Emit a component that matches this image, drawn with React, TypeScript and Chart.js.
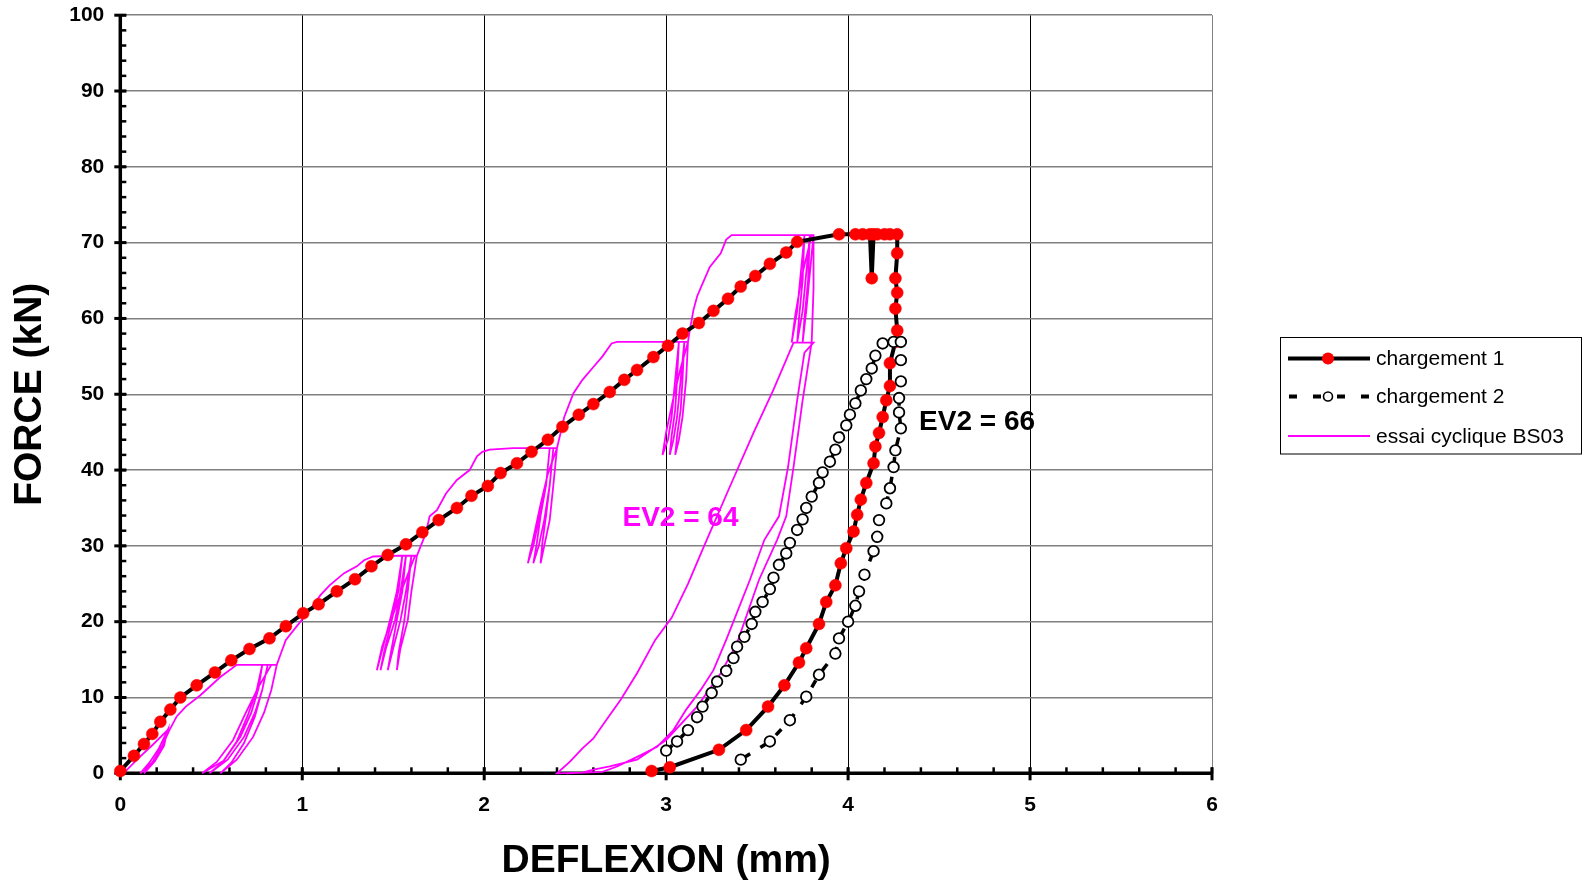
import React, { useEffect, useRef } from 'react';
import { Chart, registerables } from 'chart.js';

Chart.register(...registerables);

const FONT = "'Liberation Sans', Arial, Helvetica, sans-serif";

// ---------- axes ----------
const xTickValues = [0, 1, 2, 3, 4, 5, 6];
const yTickValues = [0, 10, 20, 30, 40, 50, 60, 70, 80, 90, 100];
const xTitle = 'DEFLEXION (mm)';
const yTitle = 'FORCE (kN)';

// ---------- series names ----------
const seriesNames = ['chargement 1', 'chargement 2', 'essai cyclique BS03'];

// ---------- chargement 1 (x mm, y kN) ----------
const chargement1: [number, number][] = [
  [0, 0.3], [0.075, 2.3], [0.13, 3.85], [0.176, 5.2], [0.22, 6.8], [0.275, 8.4], [0.33, 10.0],
  [0.42, 11.6], [0.52, 13.3], [0.61, 14.9], [0.71, 16.4], [0.82, 17.8], [0.91, 19.4], [1.005, 21.1],
  [1.09, 22.3], [1.19, 24.0], [1.29, 25.6], [1.38, 27.3], [1.47, 28.8], [1.57, 30.2], [1.66, 31.8],
  [1.75, 33.4], [1.85, 35.0], [1.93, 36.6], [2.02, 37.9], [2.09, 39.6], [2.18, 40.9], [2.26, 42.4],
  [2.35, 44.0], [2.43, 45.7], [2.52, 47.3], [2.60, 48.7], [2.69, 50.3], [2.77, 51.9], [2.84, 53.2],
  [2.93, 54.9], [3.01, 56.4], [3.09, 58.0], [3.18, 59.4], [3.26, 61.0], [3.34, 62.6], [3.41, 64.2],
  [3.49, 65.6], [3.57, 67.2], [3.66, 68.7], [3.72, 70.1], [3.95, 71.1], [4.04, 71.1], [4.08, 71.1],
  [4.12, 71.1], [4.13, 65.3], [4.14, 71.1], [4.16, 71.1], [4.20, 71.1], [4.23, 71.1], [4.27, 71.1],
  [4.27, 68.6], [4.26, 65.3], [4.27, 63.4], [4.26, 61.3], [4.27, 58.4], [4.26, 56.9], [4.23, 54.1],
  [4.23, 51.1], [4.21, 49.2], [4.19, 47.0], [4.17, 44.9], [4.15, 43.1], [4.14, 40.9], [4.10, 38.3],
  [4.07, 36.1], [4.05, 34.1], [4.03, 31.9], [3.99, 29.7], [3.96, 27.7], [3.93, 24.8], [3.88, 22.6],
  [3.84, 19.7], [3.77, 16.5], [3.73, 14.6], [3.65, 11.6], [3.56, 8.8], [3.44, 5.7], [3.29, 3.1],
  [3.02, 0.8], [2.92, 0.3],
];

// ---------- chargement 2 ----------
const chargement2: [number, number][] = [
  [3.00, 3.0], [3.06, 4.2], [3.12, 5.7], [3.17, 7.4], [3.20, 8.8], [3.25, 10.6], [3.28, 12.1],
  [3.33, 13.5], [3.37, 15.2], [3.39, 16.7], [3.43, 18.0], [3.47, 19.7], [3.49, 21.3], [3.53, 22.6],
  [3.57, 24.3], [3.59, 25.8], [3.62, 27.5], [3.66, 29.0], [3.68, 30.4], [3.72, 32.1], [3.75, 33.5],
  [3.77, 35.0], [3.80, 36.5], [3.84, 38.3], [3.86, 39.7], [3.90, 41.1], [3.93, 42.7], [3.95, 44.3],
  [3.99, 45.9], [4.01, 47.3], [4.04, 48.8], [4.07, 50.5], [4.10, 52.0], [4.13, 53.4], [4.15, 55.1],
  [4.19, 56.7], [4.25, 56.9], [4.29, 56.9], [4.29, 54.5], [4.29, 51.7], [4.28, 49.5], [4.28, 47.6],
  [4.29, 45.5], [4.26, 42.6], [4.25, 40.4], [4.23, 37.6], [4.21, 35.6], [4.17, 33.4], [4.16, 31.2],
  [4.14, 29.3], [4.09, 26.2], [4.06, 24.0], [4.04, 22.1], [4.00, 20.0], [3.95, 17.8], [3.93, 15.8],
  [3.84, 13.0], [3.77, 10.1], [3.68, 7.0], [3.57, 4.2], [3.41, 1.8],
];

// ---------- essai cyclique BS03 (segments in recording order) ----------
const cycStart: [number, number][] = [
  [0, 0], [0.03, 0.3], [0.10, 2.0], [0.18, 3.8], [0.26, 5.7], [0.23, 3.5], [0.18, 1.5], [0.11, 0],
  [0.16, 1.4], [0.21, 3.2], [0.26, 5.7], [0.24, 3.6], [0.19, 1.6], [0.13, 0], [0.18, 1.6], [0.23, 3.6],
  [0.27, 5.7], [0.31, 7.5], [0.36, 8.8], [0.44, 10.3], [0.55, 12.7], [0.64, 14.3], [0.75, 14.3], [0.86, 14.3],
];
const cycLevel14: [number, number][] = [
  [0.83, 11.0], [0.79, 8.0], [0.73, 4.8], [0.64, 1.8], [0.55, 0],
  [0.61, 1.4], [0.68, 4.0], [0.74, 7.5], [0.78, 11.0], [0.81, 14.3],
  [0.78, 11.0], [0.74, 8.0], [0.68, 4.8], [0.59, 1.8], [0.49, 0],
  [0.56, 1.4], [0.64, 4.2], [0.70, 7.6], [0.75, 11.0], [0.78, 14.3],
  [0.76, 11.2], [0.72, 8.0], [0.66, 4.8], [0.57, 1.7], [0.45, 0],
  [0.53, 1.5], [0.62, 4.4], [0.69, 8.0], [0.76, 11.4], [0.83, 14.3], [0.86, 14.3],
  [0.89, 16.3], [0.91, 17.6], [0.99, 20.0], [1.05, 21.8], [1.10, 23.5], [1.15, 24.8], [1.23, 26.4],
  [1.30, 27.3], [1.34, 28.1], [1.39, 28.6], [1.54, 28.7], [1.63, 28.7],
];
const cycLevel28: [number, number][] = [
  [1.60, 24.0], [1.58, 20.2], [1.54, 16.5], [1.52, 13.6],
  [1.53, 16.0], [1.56, 20.0], [1.58, 24.0], [1.60, 28.7],
  [1.57, 24.0], [1.54, 20.2], [1.50, 16.5], [1.47, 13.6],
  [1.49, 16.3], [1.52, 20.2], [1.55, 24.0], [1.57, 28.7],
  [1.54, 24.0], [1.51, 20.2], [1.46, 16.5], [1.43, 13.6],
  [1.45, 16.0], [1.49, 20.0], [1.53, 24.2], [1.55, 28.7],
  [1.52, 24.0], [1.48, 20.0], [1.44, 16.3], [1.41, 13.6],
  [1.44, 16.8], [1.50, 21.0], [1.56, 25.0], [1.62, 28.7], [1.63, 28.7],
  [1.65, 29.9], [1.68, 31.7], [1.70, 33.9], [1.74, 34.7], [1.79, 36.9], [1.85, 38.7], [1.92, 40.0],
  [1.96, 41.8], [1.99, 42.4], [2.03, 42.7], [2.16, 42.9], [2.32, 42.9], [2.40, 42.9],
];
const cycLevel43: [number, number][] = [
  [2.38, 38.0], [2.36, 33.4], [2.33, 30.0], [2.31, 27.7],
  [2.32, 30.5], [2.34, 34.0], [2.36, 38.0], [2.38, 42.9],
  [2.36, 38.0], [2.33, 33.4], [2.30, 30.0], [2.27, 27.7],
  [2.29, 30.5], [2.31, 34.0], [2.34, 38.0], [2.36, 42.9],
  [2.34, 38.0], [2.30, 33.4], [2.27, 30.0], [2.24, 27.7],
  [2.27, 31.0], [2.31, 35.5], [2.35, 39.5], [2.40, 42.9],
  [2.42, 44.9], [2.44, 47.0], [2.49, 50.1], [2.54, 51.9], [2.60, 53.6], [2.65, 55.0], [2.70, 56.7],
  [2.73, 56.9], [2.90, 56.9], [3.12, 56.9],
];
const cycLevel57: [number, number][] = [
  [3.11, 52.0], [3.09, 47.0], [3.07, 44.0], [3.05, 42.0],
  [3.06, 44.5], [3.08, 48.0], [3.09, 52.0], [3.10, 56.9],
  [3.08, 52.0], [3.06, 47.0], [3.04, 44.0], [3.02, 42.0],
  [3.03, 44.5], [3.05, 48.0], [3.06, 52.0], [3.07, 56.9],
  [3.05, 52.0], [3.03, 47.0], [3.01, 44.0], [2.98, 42.0],
  [3.00, 45.0], [3.04, 49.5], [3.08, 53.5], [3.12, 56.9],
  [3.13, 58.5], [3.15, 61.1], [3.17, 62.9], [3.20, 64.6], [3.24, 66.8], [3.30, 68.6], [3.33, 70.4],
  [3.36, 71.0], [3.60, 71.0], [3.81, 71.0],
];
const cycLevel71: [number, number][] = [
  [3.79, 66.0], [3.77, 61.0], [3.75, 56.8],
  [3.76, 60.0], [3.78, 65.0], [3.79, 71.0],
  [3.77, 66.0], [3.75, 61.0], [3.72, 56.8],
  [3.73, 60.0], [3.75, 65.0], [3.76, 71.0],
  [3.74, 66.0], [3.72, 61.0], [3.69, 56.8],
  [3.71, 60.5], [3.75, 66.0], [3.80, 71.0], [3.81, 71.0],
];
const cycUnload1: [number, number][] = [
  [3.81, 64.0], [3.80, 56.9], [3.75, 49.2], [3.70, 40.4], [3.66, 33.9], [3.61, 30.8], [3.51, 25.5],
  [3.39, 17.2], [3.30, 13.2], [3.17, 8.8], [3.00, 4.4], [2.84, 1.8], [2.69, 0.9], [2.60, 0.5],
  [2.54, 0.1], [2.40, 0],
];
const cycReload: [number, number][] = [
  [2.47, 1.5], [2.54, 3.3], [2.60, 4.6], [2.67, 7.0], [2.75, 9.7], [2.84, 13.2], [2.94, 17.6],
  [3.03, 20.5], [3.12, 25.0], [3.20, 29.5], [3.35, 37.8], [3.48, 44.9], [3.59, 50.6], [3.70, 56.8],
  [3.81, 56.8],
];
const cycUnload2: [number, number][] = [
  [3.76, 55.5], [3.72, 49.2], [3.67, 40.4], [3.62, 33.9], [3.54, 30.8], [3.46, 25.5], [3.33, 17.6],
  [3.26, 13.6], [3.19, 11.0], [3.11, 8.4], [3.04, 5.7], [2.95, 3.5], [2.86, 2.4], [2.73, 0.9],
  [2.65, 0.2], [2.45, 0],
];

// ---------- annotations ----------
const noteTexts = ['EV2 = 66', 'EV2 = 64'];
const noteX = [4.39, 2.76];
const noteY = [46.3, 33.7];
const noteColors = ['#000000', '#FF00FF'];

const cyclique = [
  ...cycStart, ...cycLevel14, ...cycLevel28, ...cycLevel43, ...cycLevel57, ...cycLevel71,
  ...cycUnload1, ...cycReload, ...cycUnload2,
];

const toPts = (a: [number, number][]) => a.map(([x, y]) => ({ x, y }));

const decorPlugin = {
  id: 'decor',
  beforeDatasetsDraw(chart: any) {
    const { ctx, chartArea: a, scales } = chart;
    const xs = scales.x;
    const ys = scales.y;
    ctx.save();
    ctx.strokeStyle = '#000';
    ctx.lineCap = 'butt';
    // minor ticks
    ctx.lineWidth = 2.5;
    for (let v = 0; v <= 100.001; v += 2) {
      const py = ys.getPixelForValue(v);
      ctx.beginPath();
      ctx.moveTo(a.left, py);
      ctx.lineTo(a.left + 6, py);
      ctx.stroke();
    }
    for (let v = 0; v <= 6.001; v += 0.2) {
      const px = xs.getPixelForValue(v);
      ctx.beginPath();
      ctx.moveTo(px, a.bottom);
      ctx.lineTo(px, a.bottom - 6);
      ctx.stroke();
    }
    // major ticks
    ctx.lineWidth = 3;
    yTickValues.forEach((v) => {
      const py = ys.getPixelForValue(v);
      ctx.beginPath();
      ctx.moveTo(a.left - 6, py);
      ctx.lineTo(a.left + 6, py);
      ctx.stroke();
    });
    xTickValues.forEach((v) => {
      const px = xs.getPixelForValue(v);
      ctx.beginPath();
      ctx.moveTo(px, a.bottom - 6);
      ctx.lineTo(px, a.bottom + 7);
      ctx.stroke();
    });
    // axis lines
    ctx.lineWidth = 3.5;
    ctx.beginPath();
    ctx.moveTo(a.left, a.top - 1);
    ctx.lineTo(a.left, a.bottom);
    ctx.lineTo(a.right + 1, a.bottom);
    ctx.stroke();
    ctx.restore();
  },
  afterDraw(chart: any) {
    const { ctx, scales } = chart;
    ctx.save();
    // annotations
    ctx.font = `bold 28px ${FONT}`;
    ctx.textBaseline = 'middle';
    ctx.textAlign = 'left';
    noteTexts.forEach((t, i) => {
      ctx.fillStyle = noteColors[i];
      ctx.fillText(t, scales.x.getPixelForValue(noteX[i]), scales.y.getPixelForValue(noteY[i]));
    });
    // legend
    const bx = 1280.5, by = 337.5, bw = 301, bh = 116.5;
    ctx.fillStyle = '#fff';
    ctx.fillRect(bx, by, bw, bh);
    ctx.strokeStyle = '#000';
    ctx.lineWidth = 1;
    ctx.strokeRect(bx, by, bw, bh);
    const rows = [358.5, 396.5, 436];
    const lx0 = 1288, lx1 = 1370, mx = 1328;
    // row 1
    ctx.strokeStyle = '#000';
    ctx.lineWidth = 4;
    ctx.beginPath(); ctx.moveTo(lx0, rows[0]); ctx.lineTo(lx1, rows[0]); ctx.stroke();
    ctx.fillStyle = '#FF0000';
    ctx.beginPath(); ctx.arc(mx, rows[0], 6, 0, Math.PI * 2); ctx.fill();
    // row 2
    ctx.lineWidth = 4;
    ctx.setLineDash([8, 16]);
    ctx.beginPath(); ctx.moveTo(lx0 + 1, rows[1]); ctx.lineTo(lx1, rows[1]); ctx.stroke();
    ctx.setLineDash([]);
    ctx.fillStyle = '#fff';
    ctx.lineWidth = 1.6;
    ctx.beginPath(); ctx.arc(mx, rows[1], 4.5, 0, Math.PI * 2); ctx.fill(); ctx.stroke();
    // row 3
    ctx.strokeStyle = '#FF00FF';
    ctx.lineWidth = 2;
    ctx.beginPath(); ctx.moveTo(lx0, rows[2]); ctx.lineTo(lx1, rows[2]); ctx.stroke();
    ctx.fillStyle = '#000';
    ctx.font = `21px ${FONT}`;
    ctx.textBaseline = 'middle';
    seriesNames.forEach((n, i) => ctx.fillText(n, 1376, rows[i] + 1));
    ctx.restore();
  },
};

export default function App() {
  const ref = useRef<HTMLCanvasElement>(null);
  useEffect(() => {
    if (!ref.current) return;
    const chart = new Chart(ref.current, {
      type: 'line',
      data: {
        datasets: [
          {
            label: seriesNames[1],
            data: toPts(chargement2),
            borderColor: '#000',
            borderWidth: 3.5,
            borderDash: [8, 12],
            pointRadius: 5.3,
            pointBackgroundColor: '#fff',
            pointBorderColor: '#000',
            pointBorderWidth: 1.8,
            tension: 0,
            clip: false,
          } as any,
          {
            label: seriesNames[0],
            data: toPts(chargement1),
            borderColor: '#000',
            borderWidth: 4,
            pointRadius: 6,
            pointBackgroundColor: '#FF0000',
            pointBorderColor: '#FF0000',
            pointBorderWidth: 0.5,
            tension: 0,
            clip: false,
          } as any,
          {
            label: seriesNames[2],
            data: toPts(cyclique),
            borderColor: '#FF00FF',
            borderWidth: 1.8,
            pointRadius: 0,
            tension: 0,
            clip: false,
          } as any,
        ],
      },
      options: {
        animation: false,
        responsive: true,
        maintainAspectRatio: false,
        devicePixelRatio: 1,
        events: [],
        layout: { padding: { top: 15.2, right: 373, left: 0, bottom: 0 } },
        plugins: { legend: { display: false }, tooltip: { enabled: false } },
        scales: {
          x: {
            type: 'linear',
            min: 0,
            max: 6,
            afterFit: (s: any) => { s.height = 108.7; s.paddingLeft = 0; s.paddingRight = 0; },
            afterBuildTicks: (s: any) => { s.ticks = xTickValues.map((v) => ({ value: v })); },
            ticks: {
              color: '#000',
              padding: 19.7,
              font: { family: FONT, size: 21, weight: 'bold' },
              callback: (v: any) => String(v),
            },
            grid: {
              drawTicks: false,
              color: (c: any) => (c.tick && c.tick.value === 6 ? '#808080' : '#000'),
              lineWidth: 1,
            },
            border: { display: false },
            title: {
              display: true,
              text: xTitle,
              color: '#000',
              font: { family: FONT, size: 39, weight: 'bold', lineHeight: 1 },
              padding: { top: 0, bottom: 1 },
            },
          },
          y: {
            type: 'linear',
            min: 0,
            max: 100,
            afterFit: (s: any) => { s.width = 120.3; s.paddingTop = 0; s.paddingBottom = 0; },
            afterBuildTicks: (s: any) => { s.ticks = yTickValues.map((v) => ({ value: v })); },
            ticks: {
              color: '#000',
              padding: 16,
              font: { family: FONT, size: 21, weight: 'bold' },
              callback: (v: any) => String(v),
            },
            grid: { drawTicks: false, color: '#808080', lineWidth: 1.5 },
            border: { display: false },
            title: {
              display: true,
              text: yTitle,
              color: '#000',
              font: { family: FONT, size: 39, weight: 'bold', lineHeight: 1 },
              padding: { top: 11, bottom: 0 },
            },
          },
        },
      } as any,
      plugins: [decorPlugin],
    });
    return () => chart.destroy();
  }, []);
  return (
    <div style={{ position: 'fixed', left: 0, top: 0, width: 1585, height: 882, background: '#fff' }}>
      <canvas ref={ref} />
    </div>
  );
}
